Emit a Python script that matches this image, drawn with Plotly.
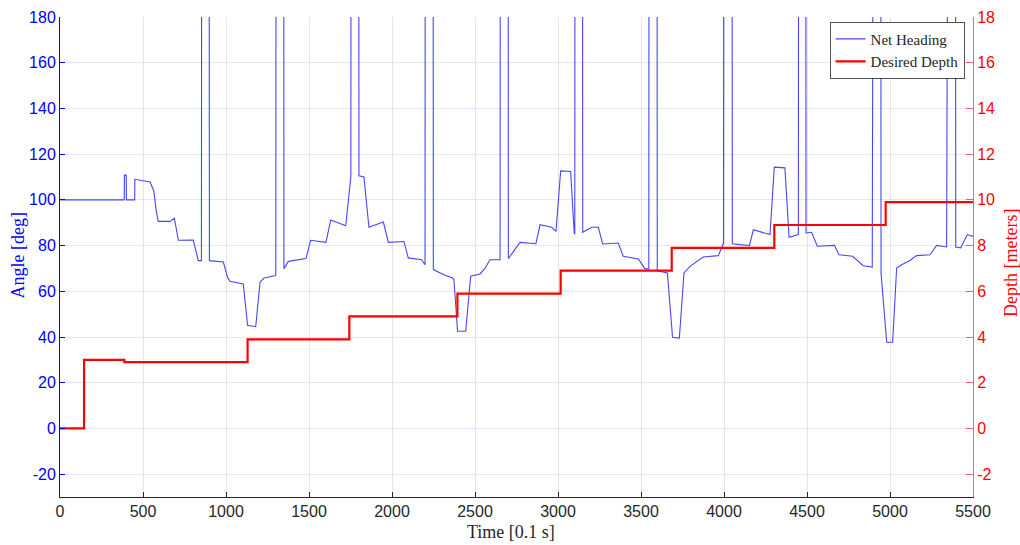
import plotly.graph_objects as go

# Net heading samples: time [0.1 s] and angle [deg]; 200 marks wrap-around excursions above the axis limit
heading_t = [0, 387, 388, 399, 400, 450, 451, 542, 565, 580, 592, 663, 689, 713, 803, 833, 852, 853, 899, 900,
             984, 1010, 1024, 1104, 1130, 1179, 1205, 1229, 1295, 1300, 1301, 1348, 1349, 1376, 1482, 1510,
             1602, 1631, 1721, 1747, 1752, 1753, 1800, 1801, 1831, 1861, 1928, 1948, 1978, 2072, 2098, 2178,
             2199, 2200, 2248, 2249, 2309, 2365, 2373, 2395, 2444, 2474, 2530, 2560, 2590, 2651, 2652, 2700,
             2701, 2771, 2867, 2892, 2962, 2988, 3016, 3076, 3098, 3101, 3102, 3148, 3149, 3173, 3203, 3243,
             3269, 3363, 3393, 3484, 3524, 3547, 3548, 3597, 3598, 3659, 3690, 3731, 3759, 3795, 3875, 3966,
             3996, 3997, 3998, 4049, 4050, 4153, 4177, 4277, 4303, 4367, 4392, 4448, 4449, 4493, 4494, 4528,
             4562, 4665, 4693, 4775, 4839, 4893, 4897, 4945, 4946, 4980, 5016, 5040, 5070, 5120, 5160, 5241,
             5281, 5341, 5346, 5395, 5396, 5426, 5466, 5500]
heading_deg = [100, 100, 110.8, 110.8, 100, 100, 109, 107.8, 104, 95, 90.6, 90.6, 92, 82.3, 82.4, 73.4, 73.4, 200, 200, 73.4,
               72.8, 66, 64.4, 63.2, 45.1, 44.5, 64, 65.8, 66.8, 67, 200, 200, 69.9, 73.1, 74.3, 82.3,
               81.4, 91.2, 88.7, 109.5, 110, 200, 200, 110.5, 110, 88, 90, 90.3, 81.4, 81.8, 74.6, 73.8,
               71.6, 200, 200, 69.5, 67.3, 65.8, 65.1, 42.5, 42.5, 66.6, 67.6, 70, 73.8, 73.8, 200, 200,
               74.3, 81.4, 80.8, 89.1, 88, 86.2, 112.7, 112.4, 85.2, 85.2, 200, 200, 85.8, 86.9, 88, 88,
               80.7, 81.1, 75.3, 74.1, 69.8, 69.8, 200, 200, 69, 68, 39.9, 39.5, 68, 70.9, 75, 75.6,
               81.1, 81.1, 200, 200, 80.8, 80, 86.9, 84.8, 114.3, 114, 83.6, 84.8, 200, 200, 85.5, 85.8,
               79.7, 80.1, 76, 75.3, 71.2, 70.6, 200, 200, 68, 37.7, 37.7, 70.2, 71.6, 73.5, 75.6, 76,
               80.1, 79.4, 200, 200, 79.4, 79, 84.8, 84]

# Desired depth set-points: step start times [0.1 s] and depth [m]
depth_t = [0, 145, 388, 1130, 1743, 2394, 3016, 3685, 4303, 4974, 5500]
depth_m = [0, 3.0, 2.9, 3.9, 4.9, 5.9, 6.9, 7.9, 8.9, 9.9, 9.9]

x_ticks = list(range(0, 5501, 500))
angle_ticks = list(range(-20, 181, 20))
depth_ticks = list(range(-2, 19, 2))

SANS = "Liberation Sans, Arial, sans-serif"
SERIF = "Liberation Serif, Times New Roman, serif"
BLUE = "#0000ff"
RED = "#ff0000"
DARK = "#262626"

fig = go.Figure()
fig.add_trace(go.Scatter(
    x=heading_t, y=heading_deg, mode="lines", name="Net Heading",
    line=dict(color="#4646ff", width=1.1), yaxis="y"))
fig.add_trace(go.Scatter(
    x=depth_t, y=depth_m, mode="lines", name="Desired Depth",
    line=dict(color=RED, width=2.2, shape="hv"), yaxis="y2"))

# Axis titles placed as paper-anchored annotations
title_font = dict(family=SERIF, size=18)
fig.add_annotation(text="Time [0.1 s]", xref="paper", yref="paper", x=0.4945, y=-0.072,
                   xanchor="center", yanchor="middle", showarrow=False,
                   font=dict(**title_font, color=DARK))
fig.add_annotation(text="Angle [deg]", xref="paper", yref="paper", x=-0.046, y=0.503,
                   xanchor="center", yanchor="middle", showarrow=False, textangle=-90,
                   font=dict(**title_font, color=BLUE))
fig.add_annotation(text="Depth [meters]", xref="paper", yref="paper", x=1.0424, y=0.487,
                   xanchor="center", yanchor="middle", showarrow=False, textangle=-90,
                   font=dict(**title_font, color=RED))

fig.update_layout(
    width=1020, height=545,
    margin=dict(l=60, r=47, t=17, b=48),
    paper_bgcolor="white", plot_bgcolor="white",
    showlegend=True,
    legend=dict(
        x=0.991, y=0.99, xanchor="right", yanchor="top",
        bgcolor="white", bordercolor=DARK, borderwidth=0.8,
        font=dict(family=SERIF, size=15, color=DARK),
        tracegroupgap=0, itemwidth=30,
    ),
    xaxis=dict(
        range=[0, 5500], tickvals=x_ticks,
        ticks="inside", ticklen=5, tickcolor=DARK,
        showline=True, linecolor=DARK, linewidth=1,
        showgrid=True, gridcolor="rgba(38,38,38,0.12)", gridwidth=1,
        zeroline=False, automargin=False,
        tickfont=dict(family=SANS, size=16, color=DARK),
    ),
    yaxis=dict(
        range=[-30, 180], tickvals=angle_ticks,
        ticktext=[str(v) for v in angle_ticks],
        ticks="inside", ticklen=5, tickcolor=BLUE,
        showline=True, linecolor=BLUE, linewidth=1,
        showgrid=True, gridcolor="rgba(0,0,255,0.1)", gridwidth=1,
        zeroline=False, automargin=False,
        tickfont=dict(family=SANS, size=16, color=BLUE),
    ),
    yaxis2=dict(
        range=[-3, 18], tickvals=depth_ticks,
        ticktext=[str(v) for v in depth_ticks],
        overlaying="y", side="right",
        ticks="inside", ticklen=7, tickcolor="rgba(255,0,0,0.6)",
        showline=True, linecolor="rgba(255,0,0,0.6)", linewidth=1,
        showgrid=False, zeroline=False, automargin=False,
        tickfont=dict(family=SANS, size=16, color=RED),
    ),
)

fig.write_html("out.html")
